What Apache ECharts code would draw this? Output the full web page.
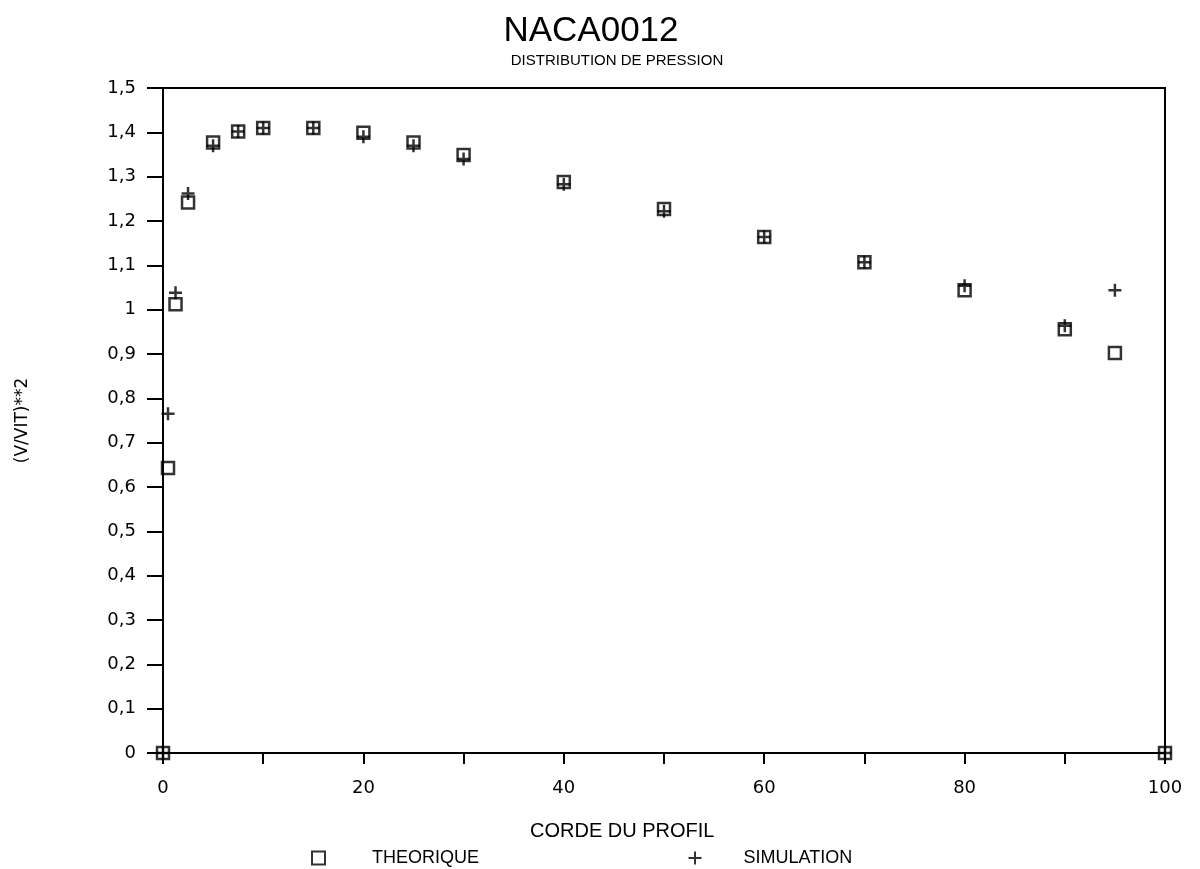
<!DOCTYPE html>
<html>
<head>
<meta charset="utf-8">
<script src="https://cdn.jsdelivr.net/npm/echarts@6/dist/echarts.min.js"></script>
<style>
  html, body { margin: 0; padding: 0; background: #fff; }
  #chart { width: 1200px; height: 869px; }
</style>
</head>
<body>
<div id="chart"></div>
<script>
// chord positions (% of chord)
var corde = [0, 0.5, 1.25, 2.5, 5, 7.5, 10, 15, 20, 25, 30, 40, 50, 60, 70, 80, 90, 95, 100];
// (V/VIT)**2
var theorique = [0, 0.643, 1.012, 1.242, 1.377, 1.402, 1.41, 1.41, 1.399, 1.377, 1.349, 1.288, 1.227, 1.164, 1.107, 1.044, 0.956, 0.902, 0];
var simulation = [0, 0.765, 1.038, 1.262, 1.37, 1.402, 1.41, 1.41, 1.39, 1.37, 1.34, 1.283, 1.222, 1.164, 1.107, 1.054, 0.964, 1.044, 0];

var seriesNames = ['THEORIQUE', 'SIMULATION'];
var titleText = 'NACA0012';
var subText = 'DISTRIBUTION DE PRESSION';
var xName = 'CORDE DU PROFIL';
var yName = '(V/VIT)**2';

var FONT = 'DejaVu Sans';
var PLUS = 'path://M0,6 L12,6 M6,0 L6,12';

function pairs(xs, ys){
  var out = [];
  for(var i = 0, len = xs.length; i < len; i++){
    out.push([xs[i], ys[i]]);
  }
  return out;
}

function frNum(v){
  var s = (Math.round(v * 10) / 10).toFixed(1);
  if(s.slice(-2) == '.0'){ s = s.slice(0, -2); }
  return s.replace('.', ',');
}

var chart = echarts.init(document.getElementById('chart'));

var option = {
  backgroundColor: '#fff',
  animation: false,
  title: [{
    text: titleText,
    left: 586, top: 9,
    textAlign: 'center',
    textStyle: { fontFamily: 'Liberation Sans', fontWeight: 'normal', fontSize: 35, color: '#000' }
  }, {
    text: subText,
    left: 612, top: 48,
    textAlign: 'center',
    textStyle: { fontFamily: 'Liberation Sans', fontWeight: 'normal', fontSize: 15, color: '#000' }
  }],
  legend: [{
    data: [seriesNames[0]],
    left: 306, top: 844,
    itemWidth: 13, itemHeight: 13,
    textStyle: { fontFamily: 'Liberation Sans', fontSize: 18, color: '#000', padding: [0, 0, 0, 42] }
  }, {
    data: [seriesNames[1]],
    left: 681, top: 844,
    itemWidth: 13, itemHeight: 13,
    textStyle: { fontFamily: 'Liberation Sans', fontSize: 18, color: '#000', padding: [0, 0, 0, 37] }
  }],
  graphic: [{
    type: 'text',
    left: 530, top: 821,
    style: { text: xName, fontFamily: 'Liberation Sans', fontSize: 20, fill: '#000' }
  }],
  grid: {
    left: 163, right: 35, top: 88, bottom: 116,
    show: true, borderColor: '#000', borderWidth: 2, backgroundColor: 'transparent'
  },
  xAxis: {
    type: 'value',
    min: 0, max: 100, interval: 10,
    axisLine: { show: true, onZero: false, lineStyle: { color: '#000', width: 2 } },
    axisTick: { show: true, inside: false, length: 11, lineStyle: { color: '#000', width: 2 } },
    splitLine: { show: false },
    axisLabel: {
      margin: 26, color: '#000', fontFamily: FONT, fontSize: 18,
      formatter: function(v){ return v % 20 == 0 ? String(v) : ''; }
    }
  },
  yAxis: {
    type: 'value',
    min: 0, max: 1.5, interval: 0.1,
    name: yName,
    nameLocation: 'middle',
    nameGap: 132,
    nameTextStyle: { fontFamily: FONT, fontSize: 17, color: '#000' },
    axisLine: { show: true, onZero: false, lineStyle: { color: '#000', width: 2 } },
    axisTick: { show: true, inside: false, length: 16, lineStyle: { color: '#000', width: 2 } },
    splitLine: { show: false },
    axisLabel: {
      margin: 27, color: '#000', fontFamily: FONT, fontSize: 18,
      formatter: frNum
    }
  },
  series: [{
    name: seriesNames[0],
    type: 'scatter',
    symbol: 'rect',
    symbolSize: 12,
    clip: false,
    itemStyle: { color: 'rgba(0,0,0,0)', borderColor: '#000', borderWidth: 2.5 },
    data: pairs(corde, theorique),
    z: 3
  }, {
    name: seriesNames[1],
    type: 'scatter',
    symbol: PLUS,
    symbolSize: 13,
    clip: false,
    itemStyle: { color: 'none', borderColor: '#000', borderWidth: 2.5 },
    data: pairs(corde, simulation),
    z: 4
  }]
};

chart.setOption(option);
</script>
</body>
</html>
